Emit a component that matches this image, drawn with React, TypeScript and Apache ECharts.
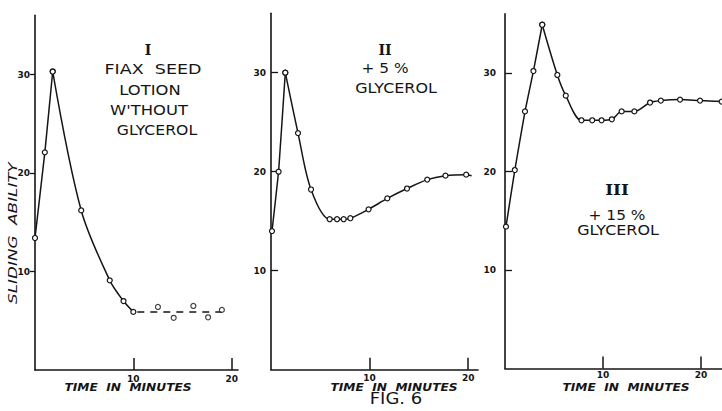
import React, { useEffect, useRef } from "react";
import * as echarts from "echarts";

// Panel I – flax seed lotion without glycerol
const p1Time = [0, 1.0, 1.8, 4.7, 7.6, 9.0, 10.0];
const p1Value = [13.4, 22.1, 30.3, 16.2, 9.1, 7.0, 5.9];
const p1PeakIndex = 2;
const p1TailTime = [12.5, 14.1, 16.1, 17.6, 19.0];
const p1TailValue = [6.4, 5.3, 6.5, 5.35, 6.1];
const p1TrendTime = [10.4, 19.3];
const p1TrendValue = [5.9, 5.9];

// Panel II – + 5 % glycerol
const p2Time = [0.1, 0.77, 1.45, 2.74, 4.06, 5.95, 6.7, 7.37, 8.05, 9.9, 11.8, 13.8, 15.85, 17.7, 19.8];
const p2Value = [14.0, 20.0, 30.0, 23.9, 18.2, 15.2, 15.2, 15.2, 15.3, 16.2, 17.3, 18.3, 19.2, 19.6, 19.7];
const p2PeakIndex = 2;
const p2EndTime = 20.35;
const p2EndValue = 19.6;

// Panel III – + 15 % glycerol
const p3Time = [0.1, 1.0, 2.04, 2.9, 3.8, 5.34, 6.2, 7.8, 8.9, 9.85, 10.9, 11.9, 13.2, 14.8, 15.9, 17.86, 19.9, 22.1];
const p3Value = [14.4, 20.15, 26.1, 30.2, 34.9, 29.8, 27.7, 25.2, 25.2, 25.2, 25.3, 26.1, 26.1, 27.0, 27.2, 27.3, 27.2, 27.1];
const p3PeakIndex = 4;

const yTickValues = [10, 20, 30];
const xTickValues = [10, 20];
const yMax = 36;

const INK = "#151515";

function pairs(xs: number[], ys: number[]) {
  return xs.map((x, i) => [x, ys[i]]);
}

function xAxis(gridIndex: number, max: number, labelMargin: number) {
  return {
    type: "value" as const,
    gridIndex,
    min: 0,
    max,
    interval: 10,
    splitLine: { show: false },
    axisLine: { show: true, lineStyle: { color: INK, width: 1.6 } },
    axisTick: { show: true, inside: true, length: 12, customValues: xTickValues, lineStyle: { color: INK, width: 1.5 } },
    axisLabel: {
      customValues: xTickValues,
      margin: labelMargin,
      color: INK,
      fontSize: 9,
      fontWeight: "bold" as const,
      fontFamily: "DejaVu Sans",
    },
  };
}

function yAxis(gridIndex: number, inside: boolean, tickLen: number, labelMargin: number) {
  return {
    type: "value" as const,
    gridIndex,
    min: 0,
    max: yMax,
    interval: 10,
    splitLine: { show: false },
    axisLine: { show: true, lineStyle: { color: INK, width: 1.6 } },
    axisTick: { show: true, inside, length: tickLen, customValues: yTickValues, lineStyle: { color: INK, width: 1.3 } },
    axisLabel: {
      customValues: yTickValues,
      margin: labelMargin,
      color: INK,
      fontSize: 9,
      fontWeight: "bold" as const,
      fontFamily: "DejaVu Sans",
    },
  };
}

const lineBase = {
  type: "line" as const,
  symbol: "circle",
  symbolSize: 5,
  lineStyle: { color: INK, width: 1.5 },
  itemStyle: { color: "#fff", borderColor: INK, borderWidth: 1.2 },
  emphasis: { disabled: true },
  z: 3,
};

// rising branch drawn nearly straight, falling branch smoothed from the peak on
function curve(name: string, idx: number, xs: number[], ys: number[], peak: number, extra: any[] = []) {
  const all = pairs(xs, ys);
  return [
    { ...lineBase, name: name + " rise", xAxisIndex: idx, yAxisIndex: idx, smooth: 0.08, data: all.slice(0, peak + 1) },
    { ...lineBase, name, xAxisIndex: idx, yAxisIndex: idx, smooth: 0.32, data: [...all.slice(peak), ...extra] },
  ];
}

function label(text: string, x: number, y: number, size: number, opts: any = {}) {
  return {
    type: "text" as const,
    x,
    y,
    scaleX: opts.scaleX ?? 1,
    rotation: opts.rotation ?? 0,
    style: {
      text,
      fill: INK,
      font: `${opts.style ?? "normal"} ${opts.weight ?? "normal"} ${size}px ${opts.family ?? "'DejaVu Sans'"}`,
      align: "center",
      verticalAlign: "middle",
    },
  };
}

export default function App() {
  const ref = useRef<HTMLDivElement>(null);

  useEffect(() => {
    const chart = echarts.init(ref.current!, null, { renderer: "svg" });
    const option: any = {
      animation: false,
      backgroundColor: "#ffffff",
      grid: [
        { left: 35, top: 15.4, width: 203, height: 354.6 },
        { left: 271, top: 13.3, width: 207, height: 356.4 },
        { left: 505, top: 13.9, width: 217, height: 354.6 },
      ],
      xAxis: [xAxis(0, 20.64, 4), xAxis(1, 21.0, 4), xAxis(2, 22.14, 2)],
      yAxis: [yAxis(0, false, 5, 5), yAxis(1, true, 7, 5), yAxis(2, true, 7, 9)],
      series: [
        ...curve("I", 0, p1Time, p1Value, p1PeakIndex),
        {
          type: "line",
          name: "I trend",
          xAxisIndex: 0,
          yAxisIndex: 0,
          symbol: "none",
          lineStyle: { color: INK, width: 1.5, type: [7, 6] },
          data: pairs(p1TrendTime, p1TrendValue),
          z: 2,
        },
        {
          type: "scatter",
          name: "I tail",
          xAxisIndex: 0,
          yAxisIndex: 0,
          symbol: "circle",
          symbolSize: 5,
          itemStyle: { color: "#fff", borderColor: INK, borderWidth: 1.2 },
          data: pairs(p1TailTime, p1TailValue),
          z: 4,
        },
        ...curve("II", 1, p2Time, p2Value, p2PeakIndex, [{ value: [p2EndTime, p2EndValue], symbol: "none" }]),
        ...curve("III", 2, p3Time, p3Value, p3PeakIndex),
      ],
      graphic: [
        // Panel I annotations
        label("I", 148, 50, 14, { weight: "bold", family: "'DejaVu Serif'" }),
        label("FIAX  SEED", 153, 69, 14, { scaleX: 1.25 }),
        label("LOTION", 150, 90, 14, { scaleX: 1.17 }),
        label("W'THOUT", 149, 110, 14, { scaleX: 1.17 }),
        label("GLYCEROL", 157, 130, 14, { scaleX: 1.12 }),
        label("SLIDING  ABILITY", 12.5, 233, 12, { style: "italic", rotation: Math.PI / 2, scaleX: 1.4 }),
        label("TIME  IN  MINUTES", 128, 388, 10, { style: "italic", weight: "bold", scaleX: 1.22 }),
        // Panel II annotations
        label("II", 385, 50, 14, { weight: "bold", family: "'DejaVu Serif'" }),
        label("+ 5 %", 385, 68, 14, { scaleX: 1.1 }),
        label("GLYCEROL", 396, 88, 14, { scaleX: 1.14 }),
        label("TIME  IN  MINUTES", 394, 388, 10, { style: "italic", weight: "bold", scaleX: 1.22 }),
        label("FIG. 6", 396, 399, 15, { scaleX: 1.2 }),
        // Panel III annotations
        label("III", 617, 190, 14, { weight: "bold", family: "'DejaVu Serif'", scaleX: 1.2 }),
        label("+ 15 %", 617, 215, 14, { scaleX: 1.1 }),
        label("GLYCEROL", 618, 230, 14, { scaleX: 1.14 }),
        label("TIME  IN  MINUTES", 626, 388, 10, { style: "italic", weight: "bold", scaleX: 1.22 }),
      ],
    };
    chart.setOption(option);
    return () => chart.dispose();
  }, []);

  return (
    <div
      ref={ref}
      style={{ position: "absolute", left: 0, top: 0, width: 722, height: 411, background: "#fff" }}
    />
  );
}
